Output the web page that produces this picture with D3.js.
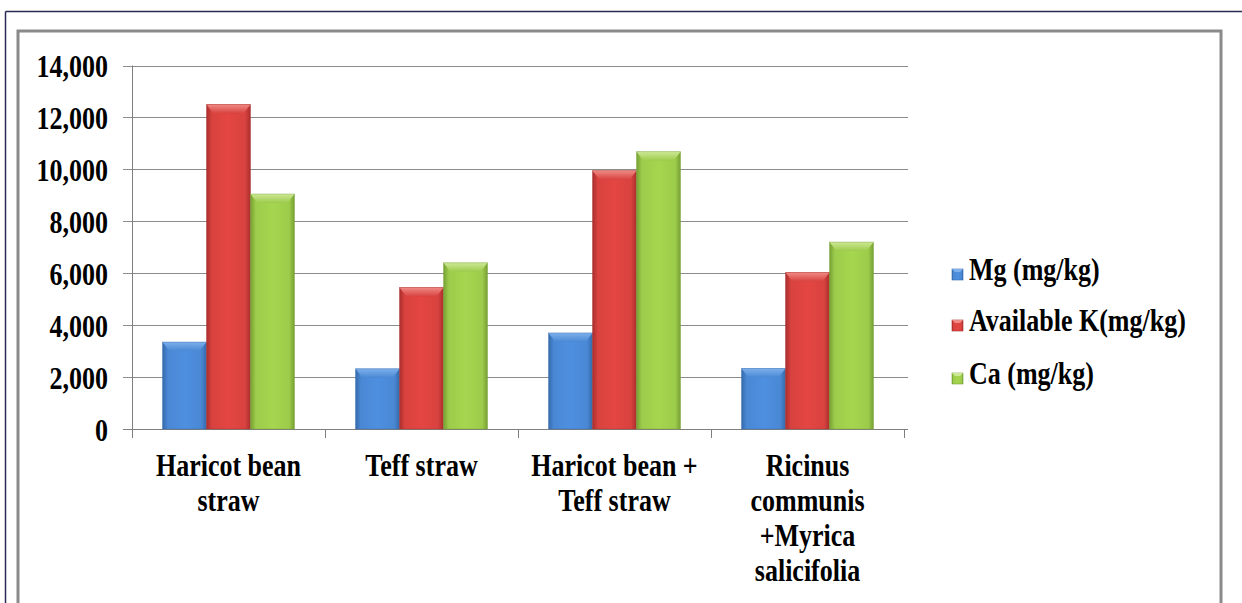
<!DOCTYPE html>
<html>
<head>
<meta charset="utf-8">
<script src="https://cdn.jsdelivr.net/npm/d3@7"></script>
<style>
  html, body { margin: 0; padding: 0; background: #fff; }
  svg { display: block; }
  text { font-family: "Liberation Serif", "Times New Roman", serif; font-weight: bold; fill: #000; }
</style>
</head>
<body>
<svg id="chart" width="1242" height="603"></svg>
<script>
// ---- data ----
const categories = ["Haricot bean straw", "Teff straw", "Haricot bean + Teff straw", "Ricinus communis +Myrica salicifolia"];
const seriesNames = ["Mg (mg/kg)", "Available K(mg/kg)", "Ca (mg/kg)"];
const mgValues = [3350, 2320, 3700, 2330];
const kValues = [12500, 5450, 9950, 6030];
const caValues = [9050, 6400, 10680, 7200];
const yTicks = [0, 2000, 4000, 6000, 8000, 10000, 12000, 14000];

const seriesValues = [mgValues, kValues, caValues];
const palette = [
  { main: "#4a88d4", light: "#7db0ec", dark: "#3569ab" },
  { main: "#d8423f", light: "#f08a84", dark: "#a82e2c" },
  { main: "#9dcb4b", light: "#cde995", dark: "#76a033" }
];

const svg = d3.select("#chart");
const W = 1242, H = 603;
const TY = 1.2; // vertical text stretch of original

// frames
svg.append("line").attr("x1", 5.5).attr("x2", 1242).attr("y1", 11.5).attr("y2", 11.5)
  .attr("stroke", "#2b2b55").attr("stroke-width", 1.5);
svg.append("line").attr("x1", 5.5).attr("x2", 5.5).attr("y1", 11.5).attr("y2", 603)
  .attr("stroke", "#2b2b55").attr("stroke-width", 1.5);
svg.append("rect").attr("x", 18).attr("y", 31).attr("width", 1203).attr("height", 620)
  .attr("fill", "none").attr("stroke", "#8a8a8a").attr("stroke-width", 3);

// scales
const plot = { left: 132, right: 904, top: 65.5, bottom: 429 };
const y = d3.scaleLinear().domain([0, 14000]).range([plot.bottom, plot.top]);
const x0 = d3.scaleBand().domain(categories).range([plot.left, plot.right])
  .paddingInner(0.316).paddingOuter(0.158);
const x1 = d3.scaleBand().domain(seriesNames).range([0, x0.bandwidth()]).padding(0);

// gradients
const defs = svg.append("defs");
palette.forEach((c, i) => {
  const g = defs.append("linearGradient").attr("id", "grad" + i)
    .attr("x1", "0").attr("x2", "1").attr("y1", "0").attr("y2", "0");
  g.append("stop").attr("offset", "0").attr("stop-color", c.dark);
  g.append("stop").attr("offset", "0.12").attr("stop-color", c.main);
  g.append("stop").attr("offset", "0.5").attr("stop-color", d3.color(c.main).brighter(0.15));
  g.append("stop").attr("offset", "0.88").attr("stop-color", c.main);
  g.append("stop").attr("offset", "1").attr("stop-color", c.dark);
  const t = defs.append("linearGradient").attr("id", "top" + i)
    .attr("x1", "0").attr("x2", "0").attr("y1", "0").attr("y2", "1");
  t.append("stop").attr("offset", "0").attr("stop-color", c.light);
  t.append("stop").attr("offset", "1").attr("stop-color", c.main);
});

// gridlines
const grid = svg.append("g");
grid.selectAll("line").data(yTicks).join("line")
  .attr("x1", plot.left - 9).attr("x2", 908)
  .attr("y1", d => Math.round(y(d)) + 0.5).attr("y2", d => Math.round(y(d)) + 0.5)
  .attr("stroke", d => d === 0 ? "#7f7f7f" : "#8c8c8c").attr("stroke-width", 1);

// y axis line
svg.append("line").attr("x1", plot.left + 0.5).attr("x2", plot.left + 0.5)
  .attr("y1", plot.top).attr("y2", plot.bottom + 9).attr("stroke", "#7f7f7f");

// category ticks
const catEdges = categories.map((c, i) => plot.left + x0.step() * i).slice(1).concat([plot.right]);
svg.append("g").selectAll("line").data(catEdges).join("line")
  .attr("x1", d => Math.round(d) + 0.5).attr("x2", d => Math.round(d) + 0.5)
  .attr("y1", plot.bottom).attr("y2", plot.bottom + 9).attr("stroke", "#7f7f7f");

// y tick labels
const fmt = d3.format(",");
svg.append("g").selectAll("text").data(yTicks).join("text")
  .attr("text-anchor", "end")
  .attr("font-size", 26)
  .attr("transform", d => `translate(108,${y(d) + 1}) scale(1,${TY})`)
  .attr("dy", "0.34em")
  .text(d => fmt(d));

// bars
const groups = svg.append("g").selectAll("g").data(categories).join("g")
  .attr("transform", d => `translate(${x0(d)},0)`);

groups.each(function(cat, ci) {
  const g = d3.select(this);
  seriesNames.forEach((s, si) => {
    const v = seriesValues[si][ci];
    const bx = x1(s), bw = x1.bandwidth();
    const top = y(v), bot = y(0);
    g.append("rect").attr("x", bx).attr("y", top).attr("width", bw).attr("height", bot - top)
      .attr("fill", `url(#grad${si})`);
    const b = 9, inset = 7;
    g.append("path")
      .attr("d", `M${bx},${top} L${bx + bw},${top} L${bx + bw - inset},${top + b} L${bx + inset},${top + b} Z`)
      .attr("fill", `url(#top${si})`);
    g.append("rect").attr("x", bx).attr("y", top).attr("width", bw).attr("height", bot - top)
      .attr("fill", "none").attr("stroke", palette[si].dark).attr("stroke-opacity", 0.5).attr("stroke-width", 0.8);
  });
});

// category labels with wrapping
function wrapLines(str, maxW) {
  const words = str.split(" ");
  const tmp = svg.append("text").attr("font-size", 26);
  const lines = [];
  let cur = "";
  words.forEach(w => {
    const test = cur ? cur + " " + w : w;
    tmp.text(test);
    if (tmp.node().getComputedTextLength() > maxW && cur) {
      lines.push(cur); cur = w;
    } else cur = test;
  });
  if (cur) lines.push(cur);
  tmp.remove();
  return lines;
}
const labelG = svg.append("g");
categories.forEach(cat => {
  const lines = wrapLines(cat, 170);
  const cx = x0(cat) + x0.bandwidth() / 2;
  lines.forEach((ln, li) => {
    labelG.append("text")
      .attr("text-anchor", "middle")
      .attr("font-size", 26)
      .attr("transform", `translate(${cx},${476 + li * 35}) scale(1,${TY})`)
      .text(ln);
  });
});

// legend
const legend = svg.append("g");
const legendBase = [280, 331, 384];
seriesNames.forEach((s, i) => {
  const base = legendBase[i];
  legend.append("rect").attr("x", 952).attr("y", base - 11).attr("width", 11).attr("height", 11)
    .attr("fill", `url(#grad${i})`).attr("stroke", palette[i].dark).attr("stroke-width", 0.6);
  legend.append("path")
    .attr("d", `M952,${base - 11} L963,${base - 11} L960,${base - 8} L955,${base - 8} Z`)
    .attr("fill", palette[i].light);
  legend.append("text").attr("font-size", 26)
    .attr("transform", `translate(969,${base}) scale(1,${TY})`)
    .text(s);
});
</script>
</body>
</html>
